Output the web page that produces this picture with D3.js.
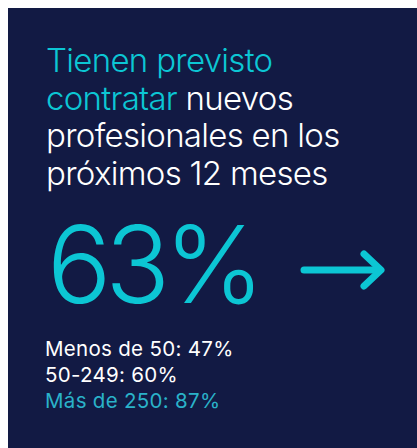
<!DOCTYPE html>
<html>
<head>
<meta charset="utf-8">
<script src="https://cdn.jsdelivr.net/npm/d3@7"></script>
<style>
  body { margin: 0; background: #fff; }
  svg { display: block; }
</style>
</head>
<body>
<script>
const w = 417;
const h = 448;
const navy = "#121a44";
const cyan = "#0cc6d4";
const teal = "#2ab2c9";

// headline, split by line, each piece [text, highlighted]
const titleLines = [
  [["Tienen previsto", true]],
  [["contratar", true], [" nuevos", false]],
  [["profesionales en los", false]],
  [["próximos 12 meses", false]]
];
const mainValue = 63;
const sizes = ["Menos de 50", "50-249", "Más de 250"];
const sizeValues = [47, 60, 87];
const sizeHighlight = [false, false, true];

const svg = d3.select("body")
  .append("svg")
  .attr("width", w)
  .attr("height", h);

svg.append("rect")
  .attr("x", 8)
  .attr("y", 8)
  .attr("width", w - 8)
  .attr("height", h - 8)
  .attr("fill", navy);

const font = "Inter, 'Noto Sans', sans-serif";

// title lines
const titleY = d3.scalePoint()
  .domain(d3.range(titleLines.length))
  .range([72, 185]);

svg.append("g")
  .selectAll("text")
  .data(titleLines)
  .enter()
  .append("text")
  .attr("x", 46)
  .attr("y", (d, i) => titleY(i))
  .style("font-family", font)
  .style("font-size", "33px")
  .style("font-weight", 300)
  .style("letter-spacing", "-0.7px")
  .selectAll("tspan")
  .data(d => d)
  .enter()
  .append("tspan")
  .attr("fill", d => d[1] ? cyan : "#fff")
  .style("white-space", "pre")
  .text(d => d[0]);

// big number
svg.append("text")
  .attr("x", 47)
  .attr("y", 303)
  .attr("fill", cyan)
  .style("font-family", font)
  .style("font-size", "107px")
  .style("font-weight", 300)
  .style("letter-spacing", "-6px")
  .text(mainValue + "%");

// arrow
const arrow = svg.append("g")
  .attr("fill", "none")
  .attr("stroke", cyan)
  .attr("stroke-width", 7)
  .attr("stroke-linecap", "round")
  .attr("stroke-linejoin", "round");
arrow.append("line")
  .attr("x1", 304).attr("y1", 270)
  .attr("x2", 380).attr("y2", 270);
arrow.append("polyline")
  .attr("points", "364,254 381,270 364,286");

// breakdown by company size
const rowY = d3.scalePoint()
  .domain(sizes)
  .range([356, 408]);

svg.append("g")
  .selectAll("text")
  .data(sizes)
  .enter()
  .append("text")
  .attr("x", 45)
  .attr("y", d => rowY(d))
  .attr("fill", (d, i) => sizeHighlight[i] ? teal : "#fff")
  .style("font-family", font)
  .style("font-size", "20.5px")
  .style("font-weight", 400)
  .style("letter-spacing", "0.3px")
  .text((d, i) => d + ": " + sizeValues[i] + "%");
</script>
</body>
</html>
